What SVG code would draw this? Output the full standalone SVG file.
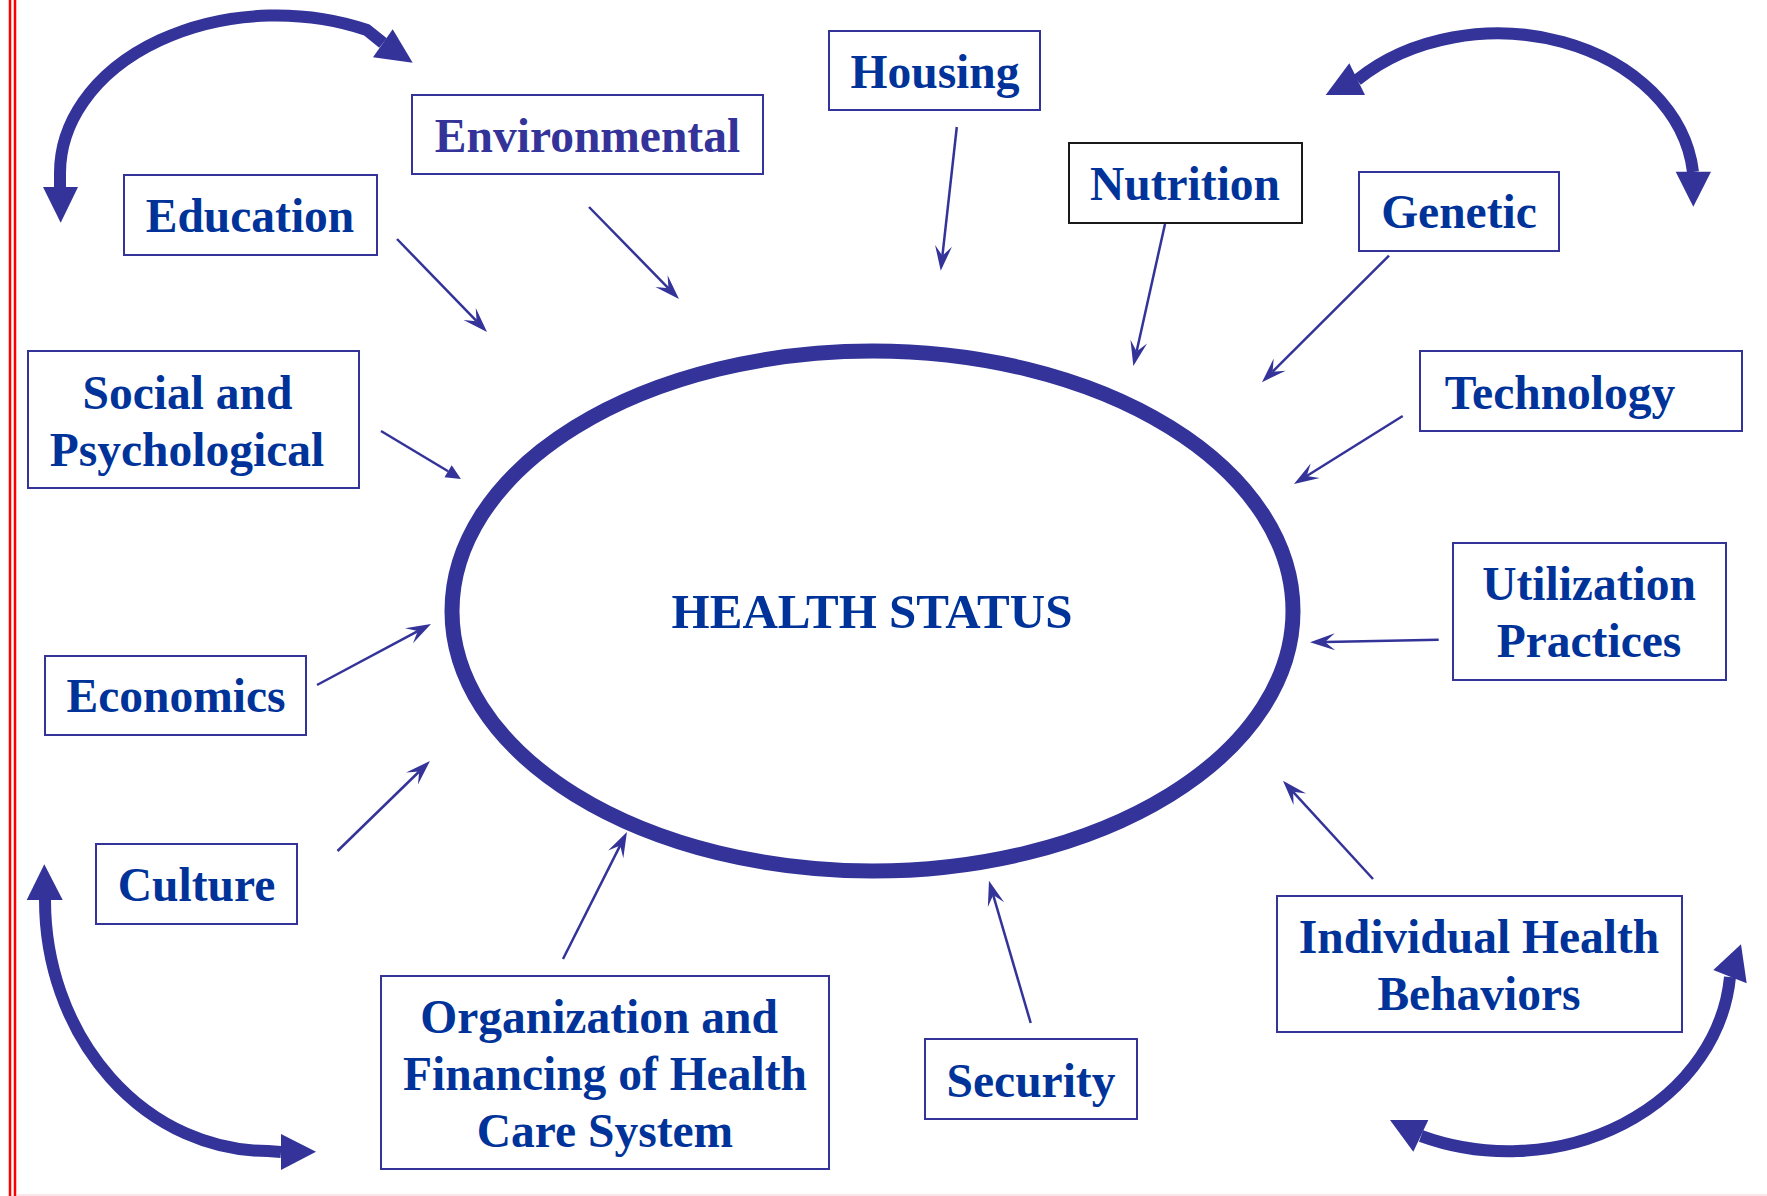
<svg xmlns="http://www.w3.org/2000/svg" width="1767" height="1196" viewBox="0 0 1767 1196">
  <defs>
    <style>
      .box { fill: #ffffff; stroke: #333399; stroke-width: 2; }
      .box.dark { stroke: #1a1a1a; }
      .lbl { font-family: "Liberation Serif", "Times New Roman", serif; font-weight: bold; font-size: 47.5px; fill: #003399; text-anchor: middle; }
      .lbl.violet { fill: #333399; }
      .lbl.title { font-size: 49px; }
      .link { fill: none; stroke: #333399; stroke-width: 2.5; }
      .cycle { fill: none; stroke: #333399; stroke-width: 12; }
      .head { fill: #333399; }
    </style>
    <!-- notched (stealth) head; origin sits at the notch -->
    <marker id="stealth" markerUnits="userSpaceOnUse" viewBox="-11 -10 27 20" refX="0" refY="0" markerWidth="27" markerHeight="20" orient="auto">
      <path d="M15,0 L-10,-8.5 L0,0 L-10,8.5 Z" fill="#333399"/>
    </marker>
    <!-- plain triangular head; origin sits at the base -->
    <marker id="tri" markerUnits="userSpaceOnUse" viewBox="-1 -8 17 16" refX="0" refY="0" markerWidth="17" markerHeight="16" orient="auto">
      <path d="M15,0 L0,-7 L0,7 Z" fill="#333399"/>
    </marker>
  </defs>

  <rect x="0" y="0" width="1767" height="1196" fill="#ffffff"/>

  <!-- page margin rules -->
  <g id="margin">
    <line x1="10" y1="0" x2="10" y2="1196" stroke="#ff0000" stroke-width="2.5"/>
    <line x1="15" y1="0" x2="15" y2="1196" stroke="#ff0000" stroke-width="2.5"/>
    <line x1="17" y1="1195" x2="1767" y2="1195" stroke="#f8e6ea" stroke-width="2"/>
  </g>

  <!-- central node -->
  <g id="health-status">
    <ellipse cx="872.5" cy="611" rx="420.5" ry="260" fill="none" stroke="#333399" stroke-width="15"/>
    <text class="lbl title" x="872" y="628">HEALTH STATUS</text>
  </g>

  <!-- factor nodes -->
  <g id="housing">
    <rect class="box" x="829" y="31" width="211" height="79"/>
    <text class="lbl" x="935" y="88">Housing</text>
  </g>
  <g id="environmental">
    <rect class="box" x="412" y="95" width="351" height="79"/>
    <text class="lbl violet" x="587.5" y="152">Environmental</text>
  </g>
  <g id="education">
    <rect class="box" x="124" y="175" width="253" height="80"/>
    <text class="lbl" x="250" y="232">Education</text>
  </g>
  <g id="nutrition">
    <rect class="box dark" x="1069" y="143" width="233" height="80"/>
    <text class="lbl" x="1185" y="200">Nutrition</text>
  </g>
  <g id="genetic">
    <rect class="box" x="1359" y="172" width="200" height="79"/>
    <text class="lbl" x="1459" y="228">Genetic</text>
  </g>
  <g id="social-psychological">
    <rect class="box" x="28" y="351" width="331" height="137"/>
    <text class="lbl" x="187.5" y="409">Social and</text>
    <text class="lbl" x="187" y="466">Psychological</text>
  </g>
  <g id="technology">
    <rect class="box" x="1420" y="351" width="322" height="80"/>
    <text class="lbl" x="1560" y="409">Technology</text>
  </g>
  <g id="utilization-practices">
    <rect class="box" x="1453" y="543" width="273" height="137"/>
    <text class="lbl" x="1589" y="600">Utilization</text>
    <text class="lbl" x="1589" y="657">Practices</text>
  </g>
  <g id="economics">
    <rect class="box" x="45" y="656" width="261" height="79"/>
    <text class="lbl" x="176" y="712">Economics</text>
  </g>
  <g id="culture">
    <rect class="box" x="96" y="844" width="201" height="80"/>
    <text class="lbl" x="196.5" y="901">Culture</text>
  </g>
  <g id="organization-financing">
    <rect class="box" x="381" y="976" width="448" height="193"/>
    <text class="lbl" x="599" y="1033">Organization and</text>
    <text class="lbl" x="605" y="1090">Financing of Health</text>
    <text class="lbl" x="605" y="1147">Care System</text>
  </g>
  <g id="security">
    <rect class="box" x="925" y="1039" width="212" height="80"/>
    <text class="lbl" x="1031" y="1097">Security</text>
  </g>
  <g id="individual-behaviors">
    <rect class="box" x="1277" y="896" width="405" height="136"/>
    <text class="lbl" x="1479" y="953">Individual Health</text>
    <text class="lbl" x="1479" y="1010">Behaviors</text>
  </g>

  <!-- connectors -->
  <g id="connectors">
    <!-- influences pointing at the centre -->
    <line class="link" x1="397" y1="239" x2="476.6" y2="321.2" marker-end="url(#stealth)"/>
    <line class="link" x1="589" y1="207" x2="668.5" y2="288.3" marker-end="url(#stealth)"/>
    <line class="link" x1="956.8" y1="127" x2="942.4" y2="255.8" marker-end="url(#stealth)"/>
    <line class="link" x1="1165" y1="224" x2="1136.6" y2="351.4" marker-end="url(#stealth)"/>
    <line class="link" x1="1389" y1="255.7" x2="1272.6" y2="371.7" marker-end="url(#stealth)"/>
    <line class="link" x1="1402.7" y1="416" x2="1306.7" y2="476" marker-end="url(#stealth)"/>
    <line class="link" x1="1438.7" y1="639.7" x2="1325" y2="642" marker-end="url(#stealth)"/>
    <line class="link" x1="1373" y1="879" x2="1293.1" y2="791.8" marker-end="url(#stealth)"/>
    <line class="link" x1="1030.7" y1="1023" x2="993.2" y2="895.1" marker-end="url(#stealth)"/>
    <line class="link" x1="563" y1="959" x2="620.2" y2="845.4" marker-end="url(#stealth)"/>
    <line class="link" x1="337.5" y1="851" x2="419.2" y2="771.5" marker-end="url(#stealth)"/>
    <line class="link" x1="317" y1="685" x2="417.8" y2="631.1" marker-end="url(#stealth)"/>
    <line class="link" x1="381" y1="431" x2="448.1" y2="471.3" marker-end="url(#tri)"/>

    <!-- two-headed corner arcs -->
    <path class="cycle" d="M60,187 L60,173 A216.3,157.5 0 0,1 367,30 L383,43"/>
    <polygon class="head" points="43,187 78,187 60.7,222.7"/>
    <polygon class="head" points="373,57.3 392.7,29.3 412.7,62.7"/>

    <path class="cycle" d="M1357,80 A196,153 0 0,1 1693,172"/>
    <polygon class="head" points="1349.3,63.3 1365,95 1325.7,95"/>
    <polygon class="head" points="1675.7,171.7 1711,171.7 1693.3,206.7"/>

    <path class="cycle" d="M45,900 A222.5,251 0 0,0 268,1151 L281,1152"/>
    <polygon class="head" points="26.7,900 62.7,900 44.3,864.3"/>
    <polygon class="head" points="281,1134 281,1170 316,1151.7"/>

    <path class="cycle" d="M1421,1136 A222.5,190 0 0,0 1730,977"/>
    <polygon class="head" points="1428.3,1120 1413.3,1151.7 1390,1120"/>
    <polygon class="head" points="1713.3,970 1746.7,983.3 1741,944.3"/>
  </g>
</svg>
